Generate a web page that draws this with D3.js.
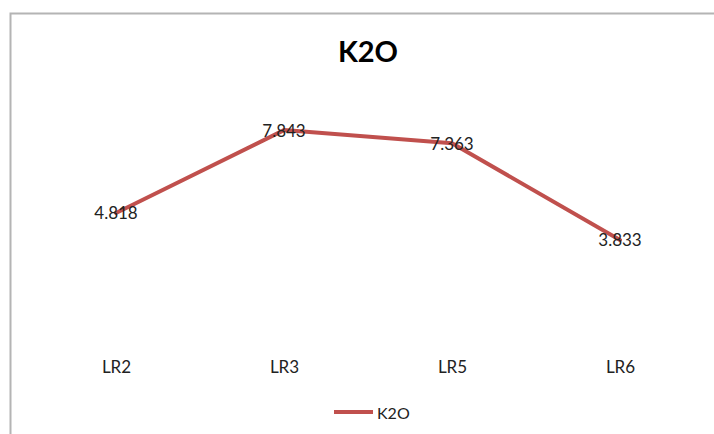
<!DOCTYPE html>
<html>
<head>
<meta charset="utf-8">
<script src="https://cdn.jsdelivr.net/npm/d3@7"></script>
<style>
  html, body { margin: 0; padding: 0; background: #fff; }
  svg { display: block; font-family: Lato, "Open Sans", sans-serif; }
</style>
</head>
<body>
<svg id="chart" width="714" height="434"></svg>
<script>
const categories = ["LR2", "LR3", "LR5", "LR6"];
const seriesName = "K2O";
const values = [4.818, 7.843, 7.363, 3.833];
const labels = ["4.818", "7.843", "7.363", "3.833"];

const svg = d3.select("#chart");

// frame (chart area border, partially visible)
svg.append("path")
  .attr("d", "M10.5,440 L10.5,13.5 L720,13.5")
  .attr("fill", "none")
  .attr("stroke", "#b4b4b4")
  .attr("stroke-width", 2);

const x = d3.scalePoint().domain(categories).range([116, 620]);
const y = d3.scaleLinear().domain([0, 10]).range([345, 71]);

// title
svg.append("text")
  .attr("x", 368).attr("y", 50)
  .attr("text-anchor", "middle")
  .attr("dominant-baseline", "central")
  .attr("font-size", 29).attr("font-weight", "bold")
  .attr("fill", "#000")
  .text(seriesName);

// category axis labels (no axis line)
const xAxis = d3.axisBottom(x).tickSize(0).tickPadding(0);
const gx = svg.append("g").attr("transform", "translate(0,361)").call(xAxis);
gx.select(".domain").remove();
gx.selectAll("text")
  .attr("font-size", 17)
  .attr("font-family", "Lato, 'Open Sans', sans-serif")
  .attr("fill", "#222");

const data = categories.map((c, i) => ({ c, v: values[i], l: labels[i] }));

// line
svg.append("path")
  .datum(data)
  .attr("d", d3.line().x(d => x(d.c)).y(d => y(d.v)))
  .attr("fill", "none")
  .attr("stroke", "#c0504d")
  .attr("stroke-width", 4)
  .attr("stroke-linejoin", "round")
  .attr("stroke-linecap", "round");

// data labels
svg.selectAll("text.dl")
  .data(data)
  .join("text")
  .attr("class", "dl")
  .attr("x", d => x(d.c))
  .attr("y", d => y(d.v))
  .attr("text-anchor", "middle")
  .attr("dominant-baseline", "central")
  .attr("font-size", 17)
  .attr("fill", "#222")
  .text(d => d.l);

// legend
const lg = svg.append("g");
lg.append("line")
  .attr("x1", 334).attr("x2", 373)
  .attr("y1", 412).attr("y2", 412)
  .attr("stroke", "#c0504d").attr("stroke-width", 4);
lg.append("text")
  .attr("x", 377).attr("y", 412)
  .attr("dominant-baseline", "central")
  .attr("font-size", 16)
  .attr("fill", "#222")
  .text(seriesName);
</script>
</body>
</html>
